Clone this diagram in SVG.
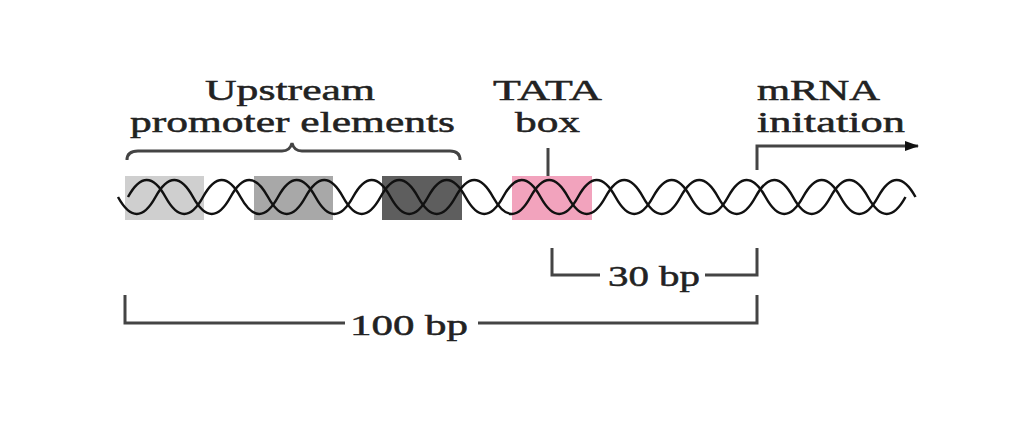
<svg xmlns="http://www.w3.org/2000/svg" width="1034" height="421" viewBox="0 0 1034 421">
<style>
text{font-family:"Liberation Serif","DejaVu Serif",serif;font-size:30px;fill:#222;stroke:#222;stroke-width:0.5}
.l{fill:none;stroke:#444;stroke-width:3}
.h{fill:none;stroke:#111;stroke-width:2.5}
</style>
<defs><marker id="a" markerWidth="14" markerHeight="10" refX="13" refY="5" orient="auto" markerUnits="userSpaceOnUse"><path d="M0,0L14,5L0,10z" fill="#111"/></marker></defs>
<rect width="1034" height="421" fill="#fff"/>
<g id="box1"><rect x="125" y="176" width="79" height="44" fill="#cfcfcf"/></g>
<g id="box2"><rect x="254" y="176" width="79" height="44" fill="#a8a8a8"/></g>
<g id="box3"><rect x="382" y="176" width="80" height="44" fill="#5e5e5e"/></g>
<g id="tata"><rect x="512" y="176" width="80" height="44" fill="#f2a3bd"/></g>
<g id="helix">
<path class="h" d="M128 197 Q146.75 163 165.5 197 T203 197 T240.5 197 T278 197 T315.5 197 T353 197 T390.5 197 T428 197 T465.5 197 T503 197 T540.5 197 T578 197 T615.5 197 T653 197 T690.5 197 T728 197 T765.5 197 T803 197 T840.5 197 T878 197 T915.5 197"/>
<path class="h" d="M118 197 Q136.75 231 155.5 197 T193 197 T230.5 197 T268 197 T305.5 197 T343 197 T380.5 197 T418 197 T455.5 197 T493 197 T530.5 197 T568 197 T605.5 197 T643 197 T680.5 197 T718 197 T755.5 197 T793 197 T830.5 197 T868 197 T905.5 197"/>
</g>
<g id="labels">
<text x="205" y="100" textLength="170" lengthAdjust="spacingAndGlyphs">Upstream</text>
<text x="130" y="132" textLength="325" lengthAdjust="spacingAndGlyphs">promoter elements</text>
<text x="493" y="100" textLength="109" lengthAdjust="spacingAndGlyphs">TATA</text>
<text x="515" y="132" textLength="65" lengthAdjust="spacingAndGlyphs">box</text>
<text x="757" y="100" textLength="123" lengthAdjust="spacingAndGlyphs">mRNA</text>
<text x="757" y="132" textLength="148" lengthAdjust="spacingAndGlyphs">initation</text>
<text x="608" y="286" textLength="92" lengthAdjust="spacingAndGlyphs">30 bp</text>
<text x="350" y="335" textLength="118" lengthAdjust="spacingAndGlyphs">100 bp</text>
</g>
<g id="connectors">
<path class="l" d="M127 160 Q127 151 138 151 L282 151 Q290 151 292 143 Q294 151 302 151 L450 151 Q460 151 460 160"/>
<path class="l" d="M548 148 V176"/>
<path class="l" d="M757 170 V146 H918" stroke="#111" marker-end="url(#a)"/>
<path class="l" d="M552 248 V275 H600 M705 275 H757 V248"/>
<path class="l" d="M125 295 V323 H345 M478 323 H757 V295"/>
</g>
</svg>
